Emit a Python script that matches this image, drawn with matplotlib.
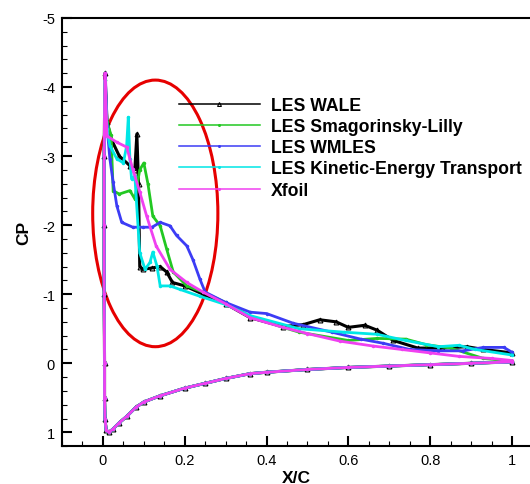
import numpy as np
import matplotlib
matplotlib.use("Agg")
import matplotlib.pyplot as plt
from matplotlib.patches import Ellipse
from matplotlib.ticker import MultipleLocator

plt.rcParams["font.family"] = ["Liberation Sans", "DejaVu Sans"]
plt.rcParams["axes.unicode_minus"] = False

# pressure side, shared by every case (leading edge -> trailing edge)
x_lower = [0.003, 0.003, 0.003, 0.004, 0.004, 0.005, 0.008, 0.015, 0.025, 0.04, 0.058,
           0.08, 0.1, 0.14, 0.2, 0.25, 0.3, 0.36, 0.4, 0.5, 0.6, 0.7, 0.8, 0.9, 1.0]
cp_lower = [-3.0, -2.0, -1.0, 0.0, 0.5, 0.8, 0.97, 1.0, 0.95, 0.86, 0.77,
            0.64, 0.56, 0.47, 0.36, 0.29, 0.22, 0.15, 0.13, 0.09, 0.06, 0.04, 0.02, 0.0, -0.02]

# suction side of each case (leading edge -> trailing edge)
x_wale = [0.005, 0.01, 0.02, 0.04, 0.066, 0.078, 0.083, 0.087, 0.09, 0.098, 0.12, 0.14,
          0.156, 0.17, 0.2, 0.245, 0.3, 0.36, 0.44, 0.49, 0.53, 0.57, 0.6, 0.64, 0.67,
          0.71, 0.77, 0.83, 0.89, 0.93, 1.0]
cp_wale = [-4.2, -3.5, -3.25, -3.0, -2.86, -2.8, -3.32, -2.6, -1.4, -1.36, -1.38, -1.4,
           -1.32, -1.17, -1.12, -1.0, -0.86, -0.66, -0.53, -0.56, -0.63, -0.6, -0.52, -0.55, -0.48,
           -0.33, -0.22, -0.22, -0.24, -0.2, -0.15]

x_smag = [0.005, 0.01, 0.02, 0.025, 0.04, 0.066, 0.078, 0.09, 0.1, 0.11, 0.122, 0.14,
          0.156, 0.172, 0.205, 0.245, 0.3, 0.36, 0.44, 0.48, 0.6, 0.67, 0.74, 0.79, 0.85,
          0.93, 1.0]
cp_smag = [-4.1, -3.5, -3.3, -2.5, -2.45, -2.5, -2.38, -2.8, -2.9, -2.6, -2.13, -1.99,
           -1.65, -1.32, -1.12, -1.03, -0.88, -0.68, -0.52, -0.45, -0.33, -0.36, -0.35, -0.27, -0.22,
           -0.07, -0.03]

x_wmles = [0.006, 0.01, 0.017, 0.025, 0.034, 0.046, 0.073, 0.098, 0.12, 0.14, 0.164,
           0.18, 0.205, 0.22, 0.237, 0.25, 0.3, 0.36, 0.4, 0.465, 0.56, 0.63, 0.685,
           0.75, 0.82, 0.88, 0.93, 0.98, 1.0]
cp_wmles = [-4.2, -3.43, -2.96, -2.62, -2.28, -2.04, -1.97, -1.97, -1.97, -2.04, -1.99,
            -1.85, -1.7, -1.5, -1.22, -1.03, -0.88, -0.74, -0.72, -0.58, -0.45, -0.35, -0.29,
            -0.2, -0.18, -0.18, -0.23, -0.23, -0.16]

x_ket = [0.005, 0.01, 0.017, 0.034, 0.05, 0.058, 0.062, 0.066, 0.07, 0.078, 0.09, 0.103,
         0.115, 0.122, 0.132, 0.14, 0.164, 0.188, 0.237, 0.3, 0.36, 0.48, 0.59, 0.67,
         0.74, 0.82, 0.87, 0.91, 1.0]
cp_ket = [-4.1, -3.39, -3.15, -2.96, -2.9, -3.15, -3.56, -2.96, -2.67, -2.71, -1.6, -1.36,
          -1.46, -1.61, -1.41, -1.12, -1.12, -1.07, -0.97, -0.85, -0.69, -0.5, -0.45, -0.42,
          -0.33, -0.24, -0.26, -0.2, -0.12]

x_xfoil = [0.005, 0.01, 0.034, 0.058, 0.073, 0.09, 0.107, 0.13, 0.164, 0.205, 0.245,
           0.3, 0.36, 0.44, 0.5, 0.58, 0.66, 0.73, 0.8, 0.87, 0.95, 1.0]
cp_xfoil = [-4.2, -3.29, -3.2, -3.13, -2.81, -2.48, -2.13, -1.7, -1.36, -1.17, -1.03,
            -0.86, -0.66, -0.52, -0.43, -0.32, -0.25, -0.2, -0.15, -0.1, -0.07, -0.04]

cases = [
    ("LES WALE", x_wale, cp_wale, "black", "^"),
    ("LES Smagorinsky-Lilly", x_smag, cp_smag, "#22c822", "."),
    ("LES WMLES", x_wmles, cp_wmles, "#3c3cf5", "."),
    ("LES Kinetic-Energy Transport", x_ket, cp_ket, "#00e6e6", "."),
    ("Xfoil", x_xfoil, cp_xfoil, "#f040f0", "."),
]

fig = plt.figure(figsize=(5.3, 4.85), dpi=100)
ax = fig.add_axes([0.117, 0.078, 0.883, 0.883])

for name, xu, cpu, color, mk in cases:
    x = np.r_[xu[::-1], x_lower]
    cp = np.r_[cpu[::-1], cp_lower]
    if mk == "^":
        ax.plot(x, cp, color=color, lw=2.2, marker="^", ms=3.5, mfc="none",
                mew=0.8, label=name)
    else:
        ax.plot(x, cp, color=color, lw=2.0, marker=".", ms=3, label=name)

ax.add_patch(Ellipse((0.128, -2.17), 0.306, 3.86, fill=False, ec="#e60000", lw=2.2))

ax.set_xlim(-0.1, 1.044)
ax.set_ylim(1.2, -5)
ax.xaxis.set_major_locator(MultipleLocator(0.2))
ax.xaxis.set_minor_locator(MultipleLocator(0.05))
ax.yaxis.set_major_locator(MultipleLocator(1))
ax.yaxis.set_minor_locator(MultipleLocator(0.2))
ax.set_xticks([0, 0.2, 0.4, 0.6, 0.8, 1.0])
ax.set_xticklabels(["0", "0.2", "0.4", "0.6", "0.8", "1"])
ax.tick_params(which="major", direction="in", length=7, width=1.5, labelsize=10.5, pad=5)
ax.tick_params(which="minor", direction="in", length=3.5, width=0.8)
for side in ("left", "bottom", "top"):
    ax.spines[side].set_linewidth(1.5)
ax.spines["right"].set_visible(False)

ax.set_xlabel("X/C", fontsize=12.5, fontweight="bold", labelpad=2)
ax.set_ylabel("CP", fontsize=12.5, fontweight="bold", labelpad=8)

leg = ax.legend(loc="upper left", bbox_to_anchor=(0.215, 0.853), frameon=False,
                prop={"weight": "bold", "size": 12.7}, handlelength=4.6,
                handletextpad=0.65, labelspacing=0.24, numpoints=1, markerscale=0.8)
for line in leg.get_lines():
    line.set_linewidth(1.1)

fig.savefig("out.png", dpi=100)
